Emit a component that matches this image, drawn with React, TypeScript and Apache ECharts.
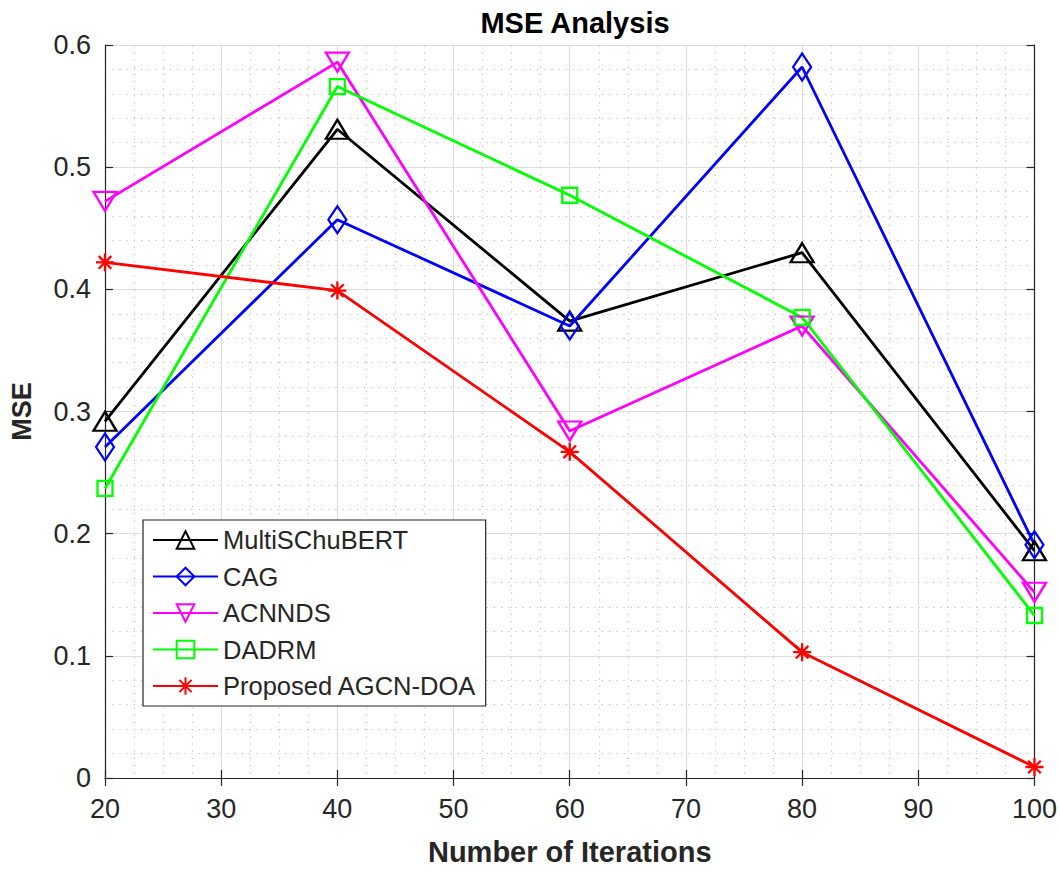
import React, { useEffect, useRef } from "react";
import * as echarts from "echarts";

const iterations = [20, 40, 60, 80, 100];
const multiSChuBERT = [0.292, 0.531, 0.374, 0.43, 0.186];
const cag = [0.271, 0.457, 0.37, 0.582, 0.191];
const acnnds = [0.472, 0.586, 0.284, 0.37, 0.152];
const dadrm = [0.237, 0.566, 0.477, 0.377, 0.133];
const proposed = [0.422, 0.399, 0.267, 0.103, 0.009];

const seriesNames = ["MultiSChuBERT", "CAG", "ACNNDS", "DADRM", "Proposed AGCN-DOA"];

const FONT = "'Liberation Sans', Arial, Helvetica, sans-serif";
const TXT = "#262626";

export default function App() {
  const ref = useRef<HTMLDivElement>(null);
  useEffect(() => {
    if (!ref.current) return;
    const chart = echarts.init(ref.current, undefined, { renderer: "svg" });
    const pairs = (ys: number[]) => iterations.map((x, i) => [x, ys[i]]);
    const mk = (
      name: string,
      ys: number[],
      color: string,
      symbol: string,
      size: number | number[],
      rotate = 0,
      filled = false
    ) => ({
      name,
      type: "line",
      data: pairs(ys),
      symbol,
      symbolSize: size,
      symbolRotate: rotate,
      showSymbol: true,
      color,
      lineStyle: { color, width: 2.8 },
      itemStyle: {
        color: filled ? color : "rgba(0,0,0,0)",
        borderColor: color,
        borderWidth: 2.3,
      },
      emphasis: { disabled: true },
      xAxisIndex: 0,
      yAxisIndex: 0,
    });
    const asterisk = "path://M10,0L10,20M0,10L20,10M3,3L17,17M3,17L17,3";
    const axisCommon = {
      axisLine: { show: true, lineStyle: { color: TXT, width: 1.2 } },
      axisTick: { show: true, inside: true, length: 8, lineStyle: { color: TXT, width: 1.2 } },
    };
    chart.setOption({
      animation: false,
      backgroundColor: "#fff",
      title: {
        text: "MSE Analysis",
        left: 570,
        top: 3,
        textAlign: "center",
        textStyle: { fontFamily: FONT, fontSize: 29, fontWeight: "bold", color: "#000" },
      },
      grid: { left: 103, right: 24, top: 45, bottom: 90, containLabel: false },
      legend: {
        orient: "vertical",
        left: 143,
        top: 520,
        padding: [7, 9, 7, 9],
        itemGap: 10.5,
        itemWidth: 65,
        itemHeight: 22,
        backgroundColor: "#fff",
        borderColor: "#262626",
        borderWidth: 1.2,
        data: seriesNames,
        textStyle: { fontFamily: FONT, fontSize: 25.5, color: TXT, lineHeight: 25.5 },
      },
      xAxis: [
        {
          type: "value",
          min: 20,
          max: 100,
          interval: 10,
          position: "bottom",
          name: "Number of Iterations",
          nameLocation: "middle",
          nameGap: 59,
          nameTextStyle: { fontFamily: FONT, fontSize: 29, fontWeight: "bold", color: TXT },
          ...axisCommon,
          axisLabel: { fontFamily: FONT, fontSize: 27, color: TXT, margin: 17 },
          splitLine: { show: true, lineStyle: { color: "#dedede", width: 1.2 } },
          minorTick: { show: true, splitNumber: 4, length: 0, lineStyle: { color: "rgba(0,0,0,0)" } },
          minorSplitLine: { show: true, lineStyle: { color: "#bdbdbd", type: [1.2, 6], width: 1.2 } },
        },
        {
          type: "value",
          min: 20,
          max: 100,
          interval: 10,
          position: "top",
          ...axisCommon,
          axisLabel: { show: false },
          splitLine: { show: false },
        },
      ],
      yAxis: [
        {
          type: "value",
          min: 0,
          max: 0.6,
          interval: 0.1,
          position: "left",
          name: "MSE",
          nameLocation: "middle",
          nameGap: 70,
          nameTextStyle: { fontFamily: FONT, fontSize: 27, fontWeight: "bold", color: TXT },
          ...axisCommon,
          axisLabel: { fontFamily: FONT, fontSize: 27, color: TXT, margin: 14 },
          splitLine: { show: true, lineStyle: { color: "#dedede", width: 1.2 } },
          minorTick: { show: true, splitNumber: 5, length: 0, lineStyle: { color: "rgba(0,0,0,0)" } },
          minorSplitLine: { show: true, lineStyle: { color: "#bdbdbd", type: [1.2, 6], width: 1.2 } },
        },
        {
          type: "value",
          min: 0,
          max: 0.6,
          interval: 0.1,
          position: "right",
          ...axisCommon,
          axisLabel: { show: false },
          splitLine: { show: false },
        },
      ],
      series: [
        mk(seriesNames[0], multiSChuBERT, "#000000", "triangle", [23, 19]),
        mk(seriesNames[1], cag, "#0000ff", "diamond", [18, 27]),
        mk(seriesNames[2], acnnds, "#ff00ff", "triangle", [23, 19], 180),
        mk(seriesNames[3], dadrm, "#00ff00", "rect", [15, 15]),
        mk(seriesNames[4], proposed, "#ff0000", asterisk, [18, 18], 0, true),
      ],
    });
    return () => chart.dispose();
  }, []);
  return <div ref={ref} style={{ width: 1060, height: 871, position: "absolute", left: 0, top: 0 }} />;
}
